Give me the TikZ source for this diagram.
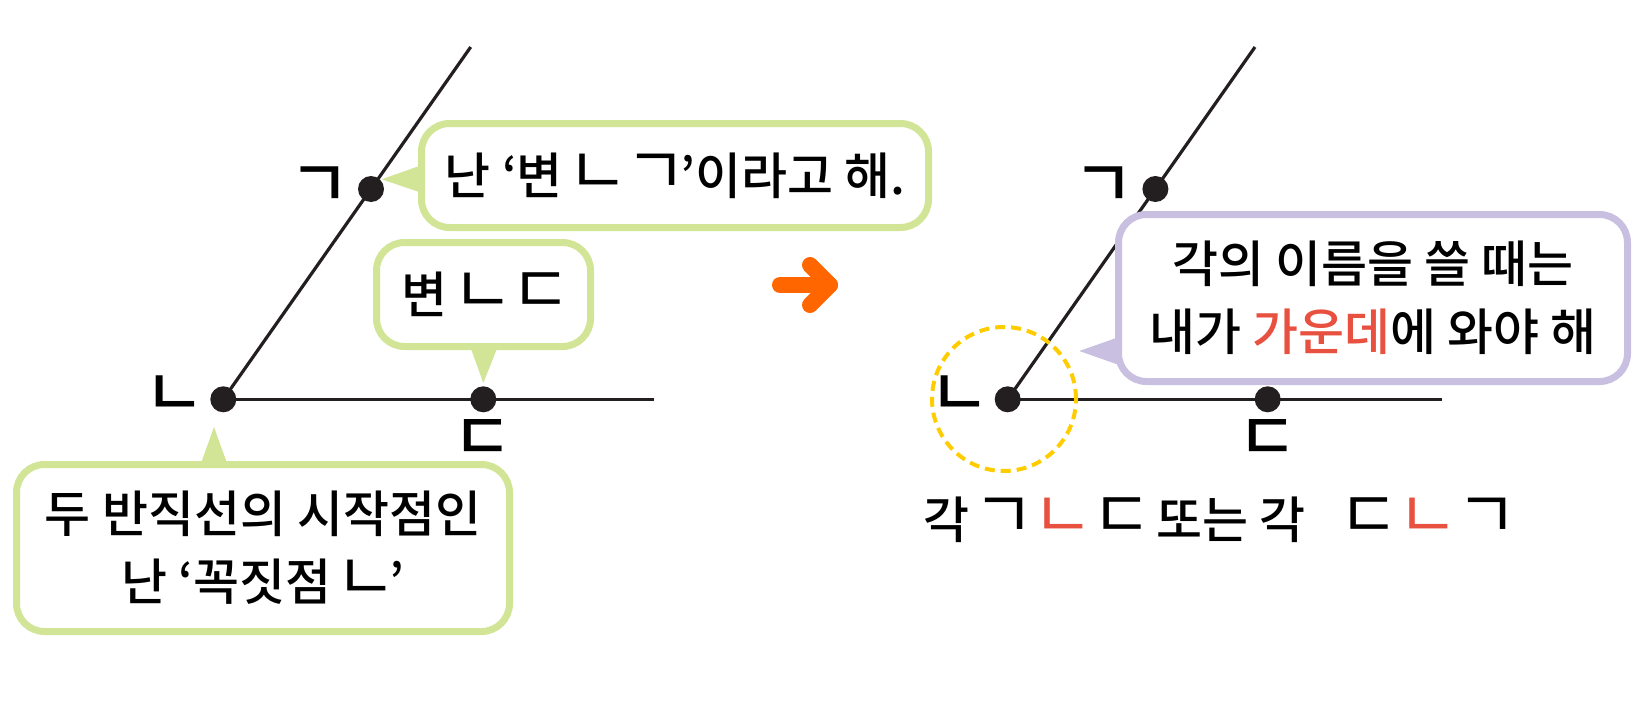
\documentclass[tikz,border=0pt]{standalone}
\usepackage{fontspec}
\setmainfont{Noto Sans CJK KR}[BoldFont={Noto Sans CJK KR Medium}]
\usetikzlibrary{calc}
\definecolor{lgreen}{HTML}{D2E596}
\definecolor{lpurple}{HTML}{C9BFE0}
\definecolor{dashy}{HTML}{FFCC00}
\definecolor{orng}{HTML}{FF6600}
\definecolor{redt}{HTML}{E8503F}
\definecolor{ink}{HTML}{231F20}
\newcommand\jm[1]{\kern0.075em\relax\raisebox{0em}{\scalebox{1.33}{\makebox[0.6em]{\mdseries #1}}}\kern0.075em\relax}
\begin{document}
\begin{tikzpicture}[x=1pt,y=-1pt,
  every node/.style={font=\fontsize{50}{68}\selectfont\bfseries, inner sep=0pt},
  lbl/.style={font=\fontsize{66}{68}\selectfont\bfseries},
  dot/.style={circle,fill=ink,inner sep=0pt,minimum size=26pt},
  seg/.style={draw=ink,line width=3.2pt},
  gbox/.style={draw=lgreen,line width=7pt,fill=white,rounded corners=28pt,align=center},
  pbox/.style={gbox,draw=lpurple},
  ptr/.style={fill=lgreen},
  pptr/.style={fill=lpurple},
  arr/.style={draw=orng,line width=16pt,line cap=round,line join=round},
  ring/.style={draw=dashy,line width=4pt,dash pattern=on 10pt off 6pt}
]
\useasboundingbox (0,0) rectangle (1641,717);

% ---------- left figure ----------
\coordinate (V1) at (223.3,399.3);
\coordinate (G1) at (371,189);
\coordinate (D1) at (483.3,399.3);
\coordinate (E1) at (470.7,47);
\coordinate (H1) at (654,399.3);
\draw[seg] (V1) -- (E1);
\draw[seg] (V1) -- (H1);
\node[dot] (v1) at (V1) {};
\node[dot] (g1) at (G1) {};
\node[dot] (d1) at (D1) {};
\node[lbl] (lg1) at (320,187) {ㄱ};
\node[lbl] (ln1) at (175,396) {ㄴ};
\node[lbl] (ld1) at (483,440) {ㄷ};

% pointers
\coordinate (t1) at (381.7,179.3);
\coordinate (t1a) at (422,165);
\coordinate (t1b) at (422,193);
\fill[ptr] (t1a) -- (t1) -- (t1b) -- cycle;
\coordinate (t2) at (483.3,383);
\coordinate (t2a) at (470,346);
\coordinate (t2b) at (498,346);
\fill[ptr] (t2a) -- (t2) -- (t2b) -- cycle;
\coordinate (t3) at (214,427);
\coordinate (t3a) at (200,466);
\coordinate (t3b) at (228,466);
\fill[ptr] (t3a) -- (t3) -- (t3b) -- cycle;

\node[gbox,minimum width=507pt,minimum height=104pt] (b1) at (675,175.5) {난 ‘변 \jm{ㄴ} \jm{ㄱ}’이라고 해.};
\node[gbox,minimum width=214pt,minimum height=104pt] (b2) at (483.5,294.5) {변 \jm{ㄴ} \jm{ㄷ}};
\node[gbox,minimum width=493pt,minimum height=167pt] (b3) at (263,548) {두 반직선의 시작점인\\난 ‘꼭짓점 \jm{ㄴ}’};

% ---------- arrow ----------
\coordinate (A1) at (780,285);
\coordinate (A2) at (830,285);
\coordinate (W1) at (810,265);
\coordinate (W2) at (810,305);
\draw[arr] (A1) -- (A2);
\draw[arr] (W1) -- (A2) -- (W2);

% ---------- right figure ----------
\coordinate (V2) at (1007.7,399.3);
\coordinate (G2) at (1155.4,189);
\coordinate (D2) at (1267.7,399.3);
\coordinate (E2) at (1255,47);
\coordinate (H2) at (1441.7,399.3);
\draw[seg] (V2) -- (E2);
\draw[seg] (V2) -- (H2);
\coordinate (C2) at (1004,399);
\draw[ring] (C2) circle (72pt);
\node[dot] (v2) at (V2) {};
\node[dot] (g2) at (G2) {};
\node[dot] (d2) at (D2) {};
\node[lbl] (lg2) at (1104,187) {ㄱ};
\node[lbl] (ln2) at (959.5,396) {ㄴ};
\node[lbl] (ld2) at (1267.5,440) {ㄷ};

\coordinate (t4) at (1079.3,351);
\coordinate (t4a) at (1119,337);
\coordinate (t4b) at (1119,365);
\fill[pptr] (t4a) -- (t4) -- (t4b) -- cycle;
\node[pbox,minimum width=509pt,minimum height=167pt] (b4) at (1373,298) {각의 이름을 쓸 때는\\내가 \textcolor{redt}{가운데}에 와야 해};

\node (cap) at (1217,520) {각 \jm{ㄱ} \textcolor{redt}{\jm{ㄴ}} \jm{ㄷ} 또는 각\hspace{40pt}\jm{ㄷ} \textcolor{redt}{\jm{ㄴ}} \jm{ㄱ}};
\end{tikzpicture}
\end{document}
